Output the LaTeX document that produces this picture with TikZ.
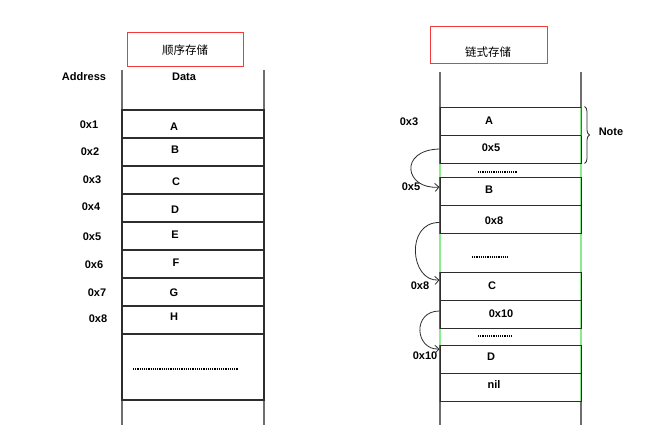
\documentclass[tikz,border=0pt]{standalone}
\usepackage{fontspec}
\setmainfont{Liberation Sans}
\newfontfamily\cjk{Noto Sans CJK SC}
\usetikzlibrary{arrows.meta,decorations.pathreplacing}
\definecolor{titlered}{RGB}{240,60,60}
\definecolor{linedark}{RGB}{45,45,45}
\definecolor{linegray}{RGB}{110,110,110}
\definecolor{darkgreen}{RGB}{60,120,60}
\definecolor{lightgreen}{RGB}{140,235,140}
\begin{document}
\begin{tikzpicture}[x=1pt,y=-1pt,
  lbl/.style={font=\bfseries\fontsize{11}{13}\selectfont, inner sep=0pt},
  cjklbl/.style={font=\cjk\fontsize{11.5}{14}\selectfont, inner sep=0pt},
  titlebox/.style={draw=titlered, line width=0.8pt, inner sep=0pt},
  lcell/.style={draw=linedark, line width=1.1pt, minimum width=142pt, minimum height=28pt, inner sep=0pt},
  rcell/.style={draw=linedark, line width=1pt, minimum width=141pt, minimum height=28pt, inner sep=0pt},
  link/.style={draw=linedark, line width=0.8pt, -{Straight Barb[length=4pt,width=8pt]}},
  dotline/.style={line width=1.1pt, dash pattern=on 1.1pt off 1.1pt}
]
\useasboundingbox[fill=white] (0,0) rectangle (672,431);

% ---------- left: sequential storage ----------
\node[titlebox, minimum width=116pt, minimum height=34pt] (ltitle) at (185,49) {};
\node[cjklbl] (ltitletext) at (185,50) {顺序存储};

\draw[linegray, line width=1.1pt] (122,70) -- (122,425);
\draw[linegray, line width=1.1pt] (264,70) -- (264,425);

\node[lbl] (addr) at (84,77) {Address};
\node[lbl] (data) at (184,77) {Data};

\node[lcell] (l1) at (193,124) {};
\node[lcell] (l2) at (193,152) {};
\node[lcell] (l3) at (193,180) {};
\node[lcell] (l4) at (193,208) {};
\node[lcell] (l5) at (193,236) {};
\node[lcell] (l6) at (193,264) {};
\node[lcell] (l7) at (193,292) {};
\node[lcell] (l8) at (193,320) {};
\node[lcell, minimum height=66pt] (l9) at (193,367) {};

\node[lbl] (a1) at (89,125) {0x1};
\node[lbl] (a2) at (90,152) {0x2};
\node[lbl] (a3) at (92,180) {0x3};
\node[lbl] (a4) at (91,207) {0x4};
\node[lbl] (a5) at (92,237) {0x5};
\node[lbl] (a6) at (94,265) {0x6};
\node[lbl] (a7) at (97,293) {0x7};
\node[lbl] (a8) at (98,319) {0x8};

\node[lbl] (dA) at (174,127) {A};
\node[lbl] (dB) at (175,150) {B};
\node[lbl] (dC) at (176,182) {C};
\node[lbl] (dD) at (175,210) {D};
\node[lbl] (dE) at (175,235) {E};
\node[lbl] (dF) at (176,263) {F};
\node[lbl] (dG) at (174,293) {G};
\node[lbl] (dH) at (174,317) {H};

\draw[dotline] (133,369) -- (238,369);

% ---------- right: linked storage ----------
\node[titlebox, minimum width=117pt, minimum height=37pt] (rtitle) at (488.5,44.5) {};
\node[cjklbl] (rtitletext) at (488,52) {链式存储};

\draw[linegray, line width=1.1pt] (440,72) -- (440,425);
\draw[linegray, line width=1.1pt] (581,72) -- (581,425);
\draw[lightgreen, line width=1.3pt] (440,107) -- (440,401);
\draw[lightgreen, line width=1.3pt] (581,107) -- (581,401);

\node[rcell] (rA) at (510.5,121) {};
\node[rcell] (p5) at (510.5,149) {};
\node[rcell] (rB) at (510.5,191.5) {};
\node[rcell] (p8) at (510.5,219.5) {};
\node[rcell] (rC) at (510.5,286) {};
\node[rcell] (p10) at (510.5,314) {};
\node[rcell] (rD) at (510.5,359) {};
\node[rcell] (rnil) at (510.5,387) {};

\draw[darkgreen, line width=1.2pt] (rA.north west) -- (p5.south west);
\draw[darkgreen, line width=1.2pt] (rA.north east) -- (rA.south east);
\draw[darkgreen, line width=1.2pt] (rB.north west) -- (p8.south west);
\draw[darkgreen, line width=1.2pt] (rC.north west) -- (p10.south west);
\draw[darkgreen, line width=1.2pt] (rD.north west) -- (rnil.south west);

\node[lbl] (ra3) at (409,122) {0x3};
\node[lbl] (tA) at (489,121) {A};
\node[lbl] (t5) at (491,148) {0x5};
\node[lbl] (note) at (611,132) {Note};
\draw[linedark, line width=0.8pt, decorate, decoration={brace, amplitude=5pt}] (rA.north east) ++(3,0) coordinate (bt) -- (p5.south east -| bt);

\draw[dotline] (478,172) -- (517,172);
\node[lbl] (ra5) at (411,187) {0x5};
\node[lbl] (tB) at (489,190) {B};
\node[lbl] (t8) at (494,221) {0x8};
\draw[dotline] (472,257) -- (508,257);
\node[lbl] (ra8) at (420,286) {0x8};
\node[lbl] (tC) at (492,286) {C};
\node[lbl] (t10) at (501,314) {0x10};
\draw[dotline] (478,336) -- (513,336);
\node[lbl] (ra10) at (425,356) {0x10};
\node[lbl] (tD) at (491,357) {D};
\node[lbl] (tnil) at (494,385) {nil};

% links
\draw[link] (p5.west) .. controls (398,150) and (405,190) .. ([yshift=4.5pt]rB.west);
\draw[link] ([yshift=-3pt]p8.west) .. controls (405,222) and (410,282) .. ([yshift=6pt]rC.west);
\draw[link] ([yshift=3pt]p10.west) .. controls (412,311) and (415,350) .. ([yshift=10pt]rD.west);
\end{tikzpicture}
\end{document}
